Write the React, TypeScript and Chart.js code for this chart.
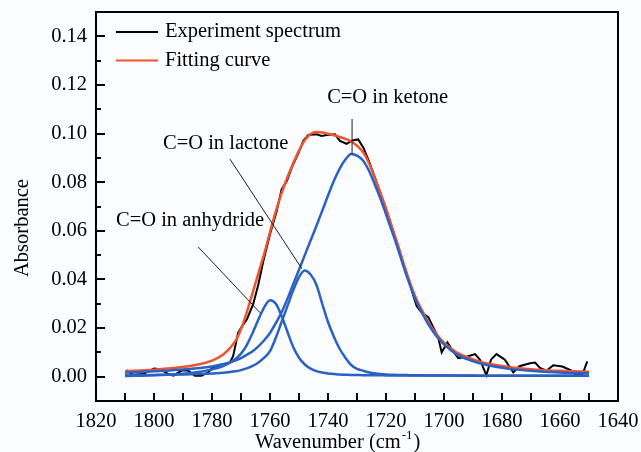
import React, { useEffect, useRef } from 'react';
import { Chart, registerables } from 'chart.js';

Chart.register(...registerables);

// ---------------- data ----------------
const experimentWavenumber = [
  1809.5, 1807.2, 1803.7, 1800.0, 1797.9, 1795.0, 1793.3, 1790.5, 1788.2, 1785.9,
  1783.6, 1781.3, 1779.6, 1776.1, 1773.8, 1772.7, 1771.0, 1769.5, 1768.0, 1765.8,
  1764.0, 1762.3, 1760.0, 1757.7, 1756.0, 1754.2, 1752.5, 1750.2, 1748.5, 1746.8,
  1743.9, 1742.2, 1740.4, 1737.6, 1735.9, 1733.6, 1731.6, 1729.6, 1727.8, 1726.0,
  1724.0, 1722.0, 1720.0, 1718.0, 1716.0, 1714.0, 1712.0, 1710.5, 1709.4, 1707.7,
  1705.4, 1703.7, 1702.0, 1700.8, 1698.8, 1697.4, 1695.1, 1692.2, 1689.3, 1687.6,
  1685.4, 1683.8, 1681.9, 1679.0, 1676.1, 1674.0, 1670.3, 1668.6, 1666.9, 1664.6,
  1662.3, 1659.2, 1656.0, 1654.8, 1652.3, 1650.6,
];
const experimentAbsorbance = [
  0.0027, 0.0008, 0.0011, 0.0034, 0.0031, 0.0011, 0.0004, 0.0025, 0.0025, 0.0004,
  0.0004, 0.0018, 0.0040, 0.0048, 0.0059, 0.0085, 0.0180, 0.0210, 0.0235, 0.0298,
  0.0380, 0.0476, 0.0586, 0.0680, 0.0770, 0.0805, 0.0860, 0.0920, 0.0970, 0.0994,
  0.0997, 0.0990, 0.0994, 0.0997, 0.0970, 0.0958, 0.0972, 0.0976, 0.0942, 0.0890,
  0.0825, 0.0758, 0.0690, 0.0615, 0.0540, 0.0465, 0.0392, 0.0330, 0.0290, 0.0264,
  0.0245, 0.0203, 0.0161, 0.0100, 0.0141, 0.0114, 0.0076, 0.0082, 0.0093, 0.0070,
  0.0006, 0.0070, 0.0093, 0.0070, 0.0018, 0.0043, 0.0055, 0.0058, 0.0036, 0.0025,
  0.0047, 0.0042, 0.0025, 0.0008, 0.0008, 0.0063,
];

const fitWavenumber = [
  1810, 1800, 1790, 1784, 1780, 1776, 1772, 1770, 1768, 1766,
  1764, 1762, 1760, 1758, 1756, 1754, 1752, 1750, 1748, 1746,
  1744, 1742, 1740, 1738, 1736, 1734, 1732, 1730, 1728, 1726,
  1724, 1722, 1720, 1718, 1716, 1714, 1712, 1710, 1708, 1706,
  1704, 1702, 1700, 1696, 1692, 1688, 1684, 1680, 1674, 1668,
  1660, 1650,
];
const fittingCurve = [
  0.0022, 0.0029, 0.0040, 0.0052, 0.0066, 0.0092, 0.0145, 0.0195, 0.0265, 0.0345,
  0.0425, 0.0505, 0.0595, 0.0680, 0.0755, 0.0820, 0.0878, 0.0930, 0.0972, 0.0998,
  0.1006, 0.1004, 0.0999, 0.0993, 0.0986, 0.0978, 0.0968, 0.0950, 0.0925, 0.0882,
  0.0822, 0.0758, 0.0690, 0.0618, 0.0545, 0.0468, 0.0396, 0.0332, 0.0282, 0.0237,
  0.0198, 0.0166, 0.0140, 0.0102, 0.0080, 0.0063, 0.0052, 0.0044, 0.0035, 0.0029,
  0.0024, 0.0020,
];
const ketonePeak = [
  0.0017, 0.0022, 0.0030, 0.0036, 0.0042, 0.0052, 0.0066, 0.0076, 0.0090, 0.0105,
  0.0125, 0.0150, 0.0180, 0.0220, 0.0265, 0.0320, 0.0380, 0.0440, 0.0500, 0.0560,
  0.0620, 0.0682, 0.0745, 0.0805, 0.0855, 0.0893, 0.0916, 0.0909, 0.0890, 0.0850,
  0.0795, 0.0735, 0.0668, 0.0600, 0.0530, 0.0455, 0.0385, 0.0322, 0.0272, 0.0228,
  0.0190, 0.0158, 0.0133, 0.0095, 0.0072, 0.0056, 0.0045, 0.0037, 0.0028, 0.0022,
  0.0017, 0.0014,
];
const lactonePeak = [
  0.0006, 0.0007, 0.0009, 0.0011, 0.0013, 0.0016, 0.0022, 0.0027, 0.0034, 0.0044,
  0.0058, 0.0078, 0.0105, 0.0160, 0.0225, 0.0290, 0.0355, 0.0410, 0.0437, 0.0420,
  0.0378, 0.0300, 0.0225, 0.0165, 0.0115, 0.0078, 0.0048, 0.0032, 0.0025, 0.0018,
  0.0014, 0.0011, 0.0009, 0.0008, 0.0007, 0.0007, 0.0006, 0.0006, 0.0006, 0.0005,
  0.0005, 0.0005, 0.0005, 0.0005, 0.0005, 0.0004, 0.0004, 0.0004, 0.0004, 0.0004,
  0.0004, 0.0004,
];
const anhydridePeak = [
  0.0003, 0.0006, 0.0012, 0.0020, 0.0030, 0.0045, 0.0072, 0.0095, 0.0130, 0.0180,
  0.0235, 0.0285, 0.0314, 0.0300, 0.0250, 0.0185, 0.0122, 0.0078, 0.0050, 0.0033,
  0.0023, 0.0017, 0.0013, 0.0011, 0.0009, 0.0008, 0.0007, 0.0007, 0.0006, 0.0006,
  0.0006, 0.0006, 0.0005, 0.0005, 0.0005, 0.0005, 0.0005, 0.0005, 0.0005, 0.0005,
  0.0005, 0.0005, 0.0005, 0.0004, 0.0004, 0.0004, 0.0004, 0.0004, 0.0004, 0.0004,
  0.0004, 0.0004,
];

const xTickValues = [1820, 1800, 1780, 1760, 1740, 1720, 1700, 1680, 1660, 1640];
const xMinorTicks = [1810, 1790, 1770, 1750, 1730, 1710, 1690, 1670, 1650];
const yTickValues = [0.0, 0.02, 0.04, 0.06, 0.08, 0.1, 0.12, 0.14];
const yMinorTicks = [0.01, 0.03, 0.05, 0.07, 0.09, 0.11, 0.13];

const legendLabels = ['Experiment spectrum', 'Fitting curve'];
const annotationLabels = ['C=O in ketone', 'C=O in lactone', 'C=O in anhydride'];
const annotationTextAt = [[1740.3, 0.1146], [1796.9, 0.0957], [1813.1, 0.0641]];
const annotationLineFrom = [[1731.7, 0.106], [1773.8, 0.0895], [1784.8, 0.0534]];
const annotationLineTo = [[1731.7, 0.0916], [1749.0, 0.0444], [1763.4, 0.0263]];

const xTitle = 'Wavenumber (cm';
const xTitleSup = '-1';
const yTitle = 'Absorbance';

// ---------------- styles ----------------
const FAMILY = "'Liberation Serif', 'Times New Roman', serif";
const FS = 20.5;
const FONT = `${FS}px ${FAMILY}`;
const BLACK = '#000000';
const RED = '#f0532f';
const BLUE = '#2a62c4';
const BG = '#fbfcfe';

const pts = (xs: number[], ys: number[]) => xs.map((x, i) => ({ x, y: ys[i] }));

const overlayPlugin = {
  id: 'overlay',
  afterDatasetsDraw(chart: any) {
    const { ctx, chartArea: a, scales } = chart;
    const xs = scales.x;
    const ys = scales.y;
    ctx.save();
    // annotations
    ctx.font = FONT;
    ctx.fillStyle = BLACK;
    ctx.textAlign = 'left';
    ctx.textBaseline = 'middle';
    annotationLabels.forEach((label, i) => {
      ctx.fillText(label, xs.getPixelForValue(annotationTextAt[i][0]), ys.getPixelForValue(annotationTextAt[i][1]));
      ctx.beginPath();
      ctx.lineWidth = 1;
      ctx.strokeStyle = '#202020';
      ctx.moveTo(xs.getPixelForValue(annotationLineFrom[i][0]), ys.getPixelForValue(annotationLineFrom[i][1]));
      ctx.lineTo(xs.getPixelForValue(annotationLineTo[i][0]), ys.getPixelForValue(annotationLineTo[i][1]));
      ctx.stroke();
    });
    // legend
    const legendColors = [BLACK, RED];
    legendLabels.forEach((label, i) => {
      const y = a.top + 20 + i * 28.5;
      ctx.beginPath();
      ctx.lineWidth = 2;
      ctx.strokeStyle = legendColors[i];
      ctx.moveTo(a.left + 20, y);
      ctx.lineTo(a.left + 62, y);
      ctx.stroke();
      ctx.fillStyle = BLACK;
      ctx.fillText(label, a.left + 69, y);
    });
    ctx.restore();
  },
  afterDraw(chart: any) {
    const { ctx, chartArea: a, scales } = chart;
    const xs = scales.x;
    const ys = scales.y;
    ctx.save();
    ctx.strokeStyle = BLACK;
    // ticks (inward)
    ctx.lineWidth = 2;
    ctx.beginPath();
    yTickValues.forEach((v) => {
      const y = Math.round(ys.getPixelForValue(v));
      ctx.moveTo(a.left, y);
      ctx.lineTo(a.left + 9, y);
    });
    yMinorTicks.forEach((v) => {
      const y = Math.round(ys.getPixelForValue(v));
      ctx.moveTo(a.left, y);
      ctx.lineTo(a.left + 5, y);
    });
    xTickValues.concat(xMinorTicks).forEach((v) => {
      const x = Math.round(xs.getPixelForValue(v));
      ctx.moveTo(x, a.bottom);
      ctx.lineTo(x, a.bottom - 8);
    });
    ctx.stroke();
    // frame
    ctx.lineWidth = 2;
    ctx.strokeRect(a.left, a.top, a.right - a.left, a.bottom - a.top);
    // x title with superscript
    ctx.fillStyle = BLACK;
    ctx.font = FONT;
    ctx.textAlign = 'left';
    ctx.textBaseline = 'alphabetic';
    const tx = a.left + 159;
    const ty = a.bottom + 47;
    ctx.fillText(xTitle, tx, ty);
    const w1 = ctx.measureText(xTitle).width;
    ctx.font = `13px ${FAMILY}`;
    ctx.fillText(xTitleSup, tx + w1 + 1, ty - 9);
    const w2 = ctx.measureText(xTitleSup).width;
    ctx.font = FONT;
    ctx.fillText(')', tx + w1 + w2 + 2, ty);
    // y title
    ctx.translate(28, 228);
    ctx.rotate(-Math.PI / 2);
    ctx.textAlign = 'center';
    ctx.fillText(yTitle, 0, 0);
    ctx.restore();
  },
};

export default function App() {
  const ref = useRef<HTMLCanvasElement | null>(null);

  useEffect(() => {
    document.body.style.margin = '0';
    document.body.style.background = BG;
    const canvas = ref.current;
    if (!canvas) return;
    const common = { pointRadius: 0, pointHoverRadius: 0, fill: false };
    const chart = new Chart(canvas, {
      type: 'line',
      data: {
        datasets: [
          { label: annotationLabels[0], data: pts(fitWavenumber, ketonePeak), borderColor: BLUE, borderWidth: 2.5, cubicInterpolationMode: 'monotone', order: 1, ...common },
          { label: annotationLabels[1], data: pts(fitWavenumber, lactonePeak), borderColor: BLUE, borderWidth: 2.5, cubicInterpolationMode: 'monotone', order: 1, ...common },
          { label: annotationLabels[2], data: pts(fitWavenumber, anhydridePeak), borderColor: BLUE, borderWidth: 2.5, cubicInterpolationMode: 'monotone', order: 1, ...common },
          { label: legendLabels[1], data: pts(fitWavenumber, fittingCurve), borderColor: RED, borderWidth: 2.5, cubicInterpolationMode: 'monotone', order: 2, ...common },
          { label: legendLabels[0], data: pts(experimentWavenumber, experimentAbsorbance), borderColor: BLACK, borderWidth: 2, tension: 0, order: 3, ...common },
        ],
      } as any,
      options: {
        responsive: false,
        animation: false,
        devicePixelRatio: 1,
        layout: { padding: { top: 12, right: 23, left: 0, bottom: 0 } },
        plugins: { legend: { display: false }, tooltip: { enabled: false } },
        scales: {
          x: {
            type: 'linear',
            reverse: true,
            min: 1640,
            max: 1820,
            afterBuildTicks: (s: any) => { s.ticks = xTickValues.map((v) => ({ value: v })); },
            afterFit: (s: any) => { s.height = 51; s.paddingLeft = 0; s.paddingRight = 0; },
            ticks: {
              font: { family: FAMILY, size: FS },
              color: BLACK,
              padding: 8,
              maxRotation: 0,
              autoSkip: false,
              callback: (v: any) => String(v),
            },
            grid: { display: false, drawTicks: false },
            border: { display: false },
          },
          y: {
            type: 'linear',
            min: -0.01,
            max: 0.15,
            afterBuildTicks: (s: any) => { s.ticks = yTickValues.map((v) => ({ value: v })); },
            afterFit: (s: any) => { s.width = 96; s.paddingTop = 0; s.paddingBottom = 0; },
            ticks: {
              font: { family: FAMILY, size: FS },
              color: BLACK,
              padding: 9,
              autoSkip: false,
              callback: (v: any) => Number(v).toFixed(2),
            },
            grid: { display: false, drawTicks: false },
            border: { display: false },
          },
        },
      } as any,
      plugins: [overlayPlugin],
    });
    return () => chart.destroy();
  }, []);

  return (
    <div style={{ width: 641, height: 452, background: BG }}>
      <canvas ref={ref} width={641} height={452} style={{ display: 'block' }} />
    </div>
  );
}
